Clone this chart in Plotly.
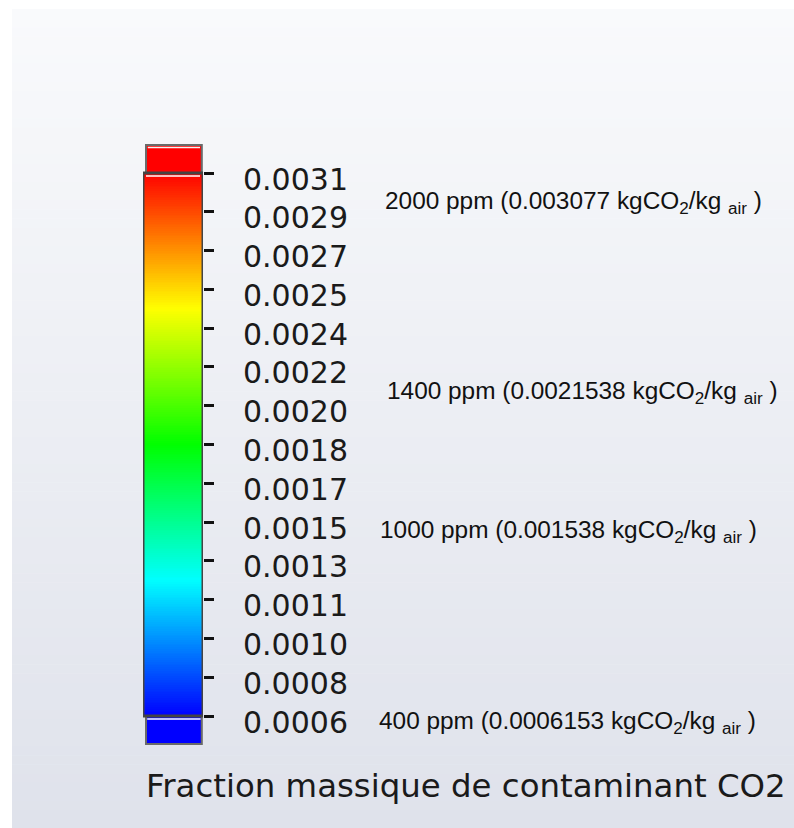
import numpy as np
import plotly.graph_objects as go

# ---------------- data ----------------
v_min = 0.0006153
v_max = 0.003077
tick_values = [0.0006153, 0.0007911, 0.0009670, 0.0011428, 0.0013186, 0.0014945,
               0.0016703, 0.0018462, 0.0020220, 0.0021978, 0.0023737, 0.0025495,
               0.0027253, 0.0029012, 0.0030770]
tick_labels = ["0.0006", "0.0008", "0.0010", "0.0011", "0.0013", "0.0015",
               "0.0017", "0.0018", "0.0020", "0.0022", "0.0024", "0.0025",
               "0.0027", "0.0029", "0.0031"]
ppm_levels = [2000, 1400, 1000, 400]
ppm_mass = ["0.003077", "0.0021538", "0.001538", "0.0006153"]
ppm_values = [0.003077, 0.0021538, 0.001538, 0.0006153]
title_text = "Fraction massique de contaminant CO2"

# ---------------- style ----------------
W, H = 794, 828
colorscale = [[0.0, "#0000ff"], [0.25, "#00ffff"], [0.5, "#00ff00"],
              [0.75, "#ffff00"], [1.0, "#ff0000"]]
px_top, px_bot = 173, 716            # pixel rows of v_max / v_min
k = (px_bot - px_top) / (v_max - v_min)   # pixels per unit
y_top = v_max + px_top / k
y_bottom = v_min - (H - px_bot) / k
bar_left, bar_right = 143, 203

def py(p):
    return 1 - p / H

fig = go.Figure()

# colour ramp of the legend bar
edges = np.linspace(v_min, v_max, 301)
centers = (edges[:-1] + edges[1:]) / 2
fig.add_trace(go.Heatmap(
    z=[[c] for c in centers], x=[0.5], y=edges,
    colorscale=colorscale, zmin=v_min, zmax=v_max,
    showscale=False, hoverinfo="skip",
))

shapes = []
# background panel (vertical gradient)
top_rgb = np.array([249, 250, 252])
bot_rgb = np.array([223, 226, 235])
n_bands = 90
p0, p1 = 9, H
for i in range(n_bands):
    a = p0 + (p1 - p0) * i / n_bands
    b = p0 + (p1 - p0) * (i + 1) / n_bands
    t = (i + 0.5) / n_bands
    c = (top_rgb * (1 - t) + bot_rgb * t).round().astype(int)
    shapes.append(dict(type="rect", xref="paper", yref="paper",
                       x0=12 / W, x1=1, y0=py(b + 0.5), y1=py(a),
                       fillcolor=f"rgb({c[0]},{c[1]},{c[2]})",
                       line=dict(width=0), layer="below"))

cap_h = 28 / k
cx0, cx1 = 0.05, 0.98
# top (above range) cap
shapes.append(dict(type="rect", xref="x", yref="y", x0=cx0, x1=cx1,
                   y0=v_max, y1=v_max + cap_h, fillcolor="#ff0000",
                   line=dict(color="#6a6a6a", width=2), layer="above"))
shapes.append(dict(type="line", xref="x", yref="y", x0=cx0 + 0.03, x1=cx1 - 0.03,
                   y0=v_max + cap_h - 2.5 / k, y1=v_max + cap_h - 2.5 / k,
                   line=dict(color="#f4f4f4", width=1.5), layer="above"))
# bottom (below range) cap
shapes.append(dict(type="rect", xref="x", yref="y", x0=cx0, x1=cx1,
                   y0=v_min - cap_h, y1=v_min, fillcolor="#0000ff",
                   line=dict(color="#6a6a6a", width=2), layer="above"))
# main bar border
shapes.append(dict(type="rect", xref="x", yref="y", x0=0, x1=1,
                   y0=v_min, y1=v_max, fillcolor="rgba(0,0,0,0)",
                   line=dict(color="#444444", width=3), layer="above"))
# white separator lines
shapes.append(dict(type="line", xref="x", yref="y", x0=0.05, x1=0.95,
                   y0=v_max - 3 / k, y1=v_max - 3 / k,
                   line=dict(color="#ffffff", width=1.5), layer="above"))
shapes.append(dict(type="line", xref="x", yref="y", x0=cx0 + 0.02, x1=cx1 - 0.02,
                   y0=v_min - 3 / k, y1=v_min - 3 / k,
                   line=dict(color="#ffffff", width=1.5), layer="above"))

annotations = []
ann_x_px = [383, 385, 378, 377]
ann_shift = [-29, -16, -19, -6]
for lvl, mass, val, xp, ys in zip(ppm_levels, ppm_mass, ppm_values, ann_x_px, ann_shift):
    annotations.append(dict(
        xref="paper", yref="y", x=xp / W, y=val, yshift=ys,
        xanchor="left", yanchor="middle", showarrow=False,
        text=f"{lvl} ppm ({mass} kgCO<sub>2</sub>/kg <sub>air</sub> )",
        font=dict(family="Liberation Sans, Arial", size=24.4, color="#111111"),
    ))
annotations.append(dict(
    xref="paper", yref="paper", x=144 / W, y=py(786),
    xanchor="left", yanchor="middle", showarrow=False, text=title_text,
    font=dict(family="DejaVu Sans", size=32.4, color="#1a1a1a"),
))

fig.update_layout(
    width=W, height=H,
    margin=dict(l=0, r=0, t=0, b=0, pad=0, autoexpand=False),
    paper_bgcolor="#ffffff", plot_bgcolor="rgba(0,0,0,0)",
    showlegend=False,
    xaxis=dict(domain=[bar_left / W, bar_right / W], range=[0, 1],
               visible=False, fixedrange=True),
    yaxis=dict(domain=[0, 1], range=[y_bottom, y_top], side="right",
               tickvals=tick_values, ticktext=tick_labels,
               ticks="outside", ticklen=10, tickwidth=2.5, tickcolor="#111111",
               ticklabelstandoff=23, ticklabelshift=6,
               tickfont=dict(family="DejaVu Sans", size=30, color="#1a1a1a"),
               showgrid=False, zeroline=False, showline=False, fixedrange=True),
    shapes=shapes, annotations=annotations,
)

fig.write_html("out.html", config={"displayModeBar": False})

# remove the browser's default page margin so the figure sits at (0, 0)
with open("out.html", "r", encoding="utf-8") as f:
    html = f.read()
html = html.replace("<head>", "<head><style>html,body{margin:0;padding:0;}</style>", 1)
with open("out.html", "w", encoding="utf-8") as f:
    f.write(html)
